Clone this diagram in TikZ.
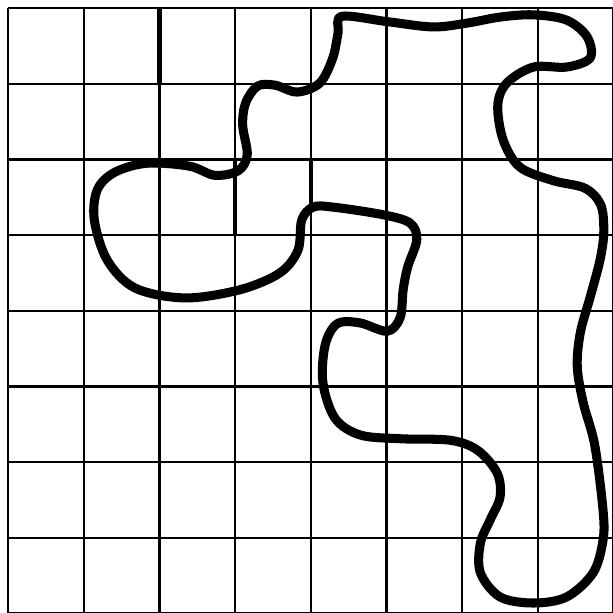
\documentclass[tikz,border=0pt]{standalone}
\usepackage{tikz}

\begin{document}
\begin{tikzpicture}[gridline/.style={line width=0.9pt},
    boldline/.style={line width=1.6pt},
    curveline/.style={line width=3.4pt, line join=round}]
    % 边界
    \useasboundingbox (-0.106, 0.008) rectangle (7.979, 8.106);

    % 方格纸
    \foreach \x in {0, 1, ..., 8} {
        \draw[gridline] (\x, 0) -- (\x, 8);
    }
    \foreach \y in {0, 1, ..., 8} {
        \draw[gridline] (0, \y) -- (8, \y);
    }

    % 几段较粗的格线
    \draw[boldline] (2, 7) -- (2, 8);
    \draw[boldline] (3, 5) -- (3, 6);
    \draw[boldline] (4, 5.3) -- (4, 6);

    % 闭合曲线
    \draw[curveline] plot[smooth cycle, tension=0.55] coordinates {
        (4.41, 7.89) (5.01, 7.82) (5.61, 7.75) (6.06, 7.80) (6.50, 7.88)
        (6.94, 7.91) (7.38, 7.84) (7.65, 7.62) (7.69, 7.34) (7.38, 7.22)
        (6.94, 7.22) (6.59, 7.01) (6.47, 6.72) (6.54, 6.26) (6.76, 5.90)
        (7.20, 5.72) (7.62, 5.62) (7.83, 5.40) (7.87, 5.04) (7.82, 4.67)
        (7.69, 4.18) (7.56, 3.71) (7.52, 3.26) (7.60, 2.78) (7.75, 2.23)
        (7.86, 1.37) (7.86, 0.97) (7.73, 0.54) (7.38, 0.22) (6.94, 0.14)
        (6.50, 0.22) (6.24, 0.54) (6.24, 0.93) (6.37, 1.24) (6.50, 1.54)
        (6.46, 1.86) (6.20, 2.16) (5.84, 2.29) (5.18, 2.31) (4.65, 2.36)
        (4.32, 2.58) (4.16, 3.05) (4.19, 3.55) (4.35, 3.83) (4.65, 3.84)
        (5.01, 3.73) (5.18, 3.91) (5.22, 4.28) (5.28, 4.58) (5.40, 4.94)
        (5.31, 5.16) (4.95, 5.27) (4.29, 5.37) (4.03, 5.37) (3.88, 5.20)
        (3.83, 4.80) (3.59, 4.50) (3.07, 4.28) (2.34, 4.17) (1.68, 4.30)
        (1.31, 4.67) (1.14, 5.20) (1.18, 5.60) (1.41, 5.83) (1.84, 5.95)
        (2.40, 5.91) (2.73, 5.79) (3.04, 5.85) (3.16, 6.06) (3.10, 6.45)
        (3.14, 6.75) (3.30, 6.97) (3.53, 6.98) (3.82, 6.89) (4.12, 7.01)
        (4.29, 7.34) (4.36, 7.67)
    };
\end{tikzpicture}
\end{document}
